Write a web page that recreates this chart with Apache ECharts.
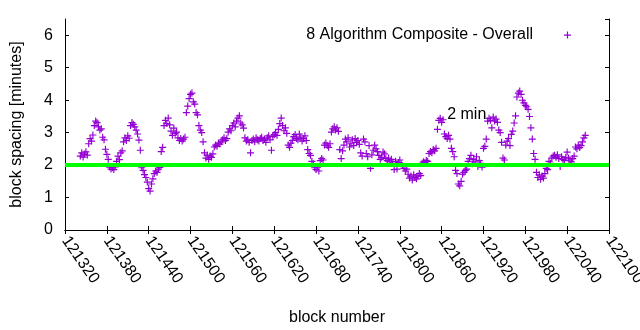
<!DOCTYPE html>
<html>
<head>
<meta charset="utf-8">
<script src="https://cdn.jsdelivr.net/npm/echarts@6/dist/echarts.min.js"></script>
<style>
  html, body { margin: 0; padding: 0; background: #fff; }
  #chart { width: 640px; height: 330px; }
</style>
</head>
<body>
<div id="chart"></div>
<script>
// Block spacing samples: one value every 2 blocks, starting at firstBlock
const firstBlock = 121342;
const blockStep = 2;
const spacing = [
  2.28, 2.38, 2.25, 2.34, 2.41, 2.31, 2.66, 2.82, 2.74, 2.93,
  3.22, 3.36, 3.31, 3.18, 3.08, 3.12, 2.86, 2.78, 2.49, 2.33,
  2.18, 1.94, 1.88, 1.92, 1.86, 1.95, 2.12, 2.28, 2.17, 2.38,
  2.44, 2.72, 2.84, 2.76, 2.90, 2.83, 3.22, 3.31, 3.26, 3.18,
  3.08, 2.96, 2.77, 2.46, 1.92, 1.84, 1.71, 1.62, 1.48, 1.28,
  1.20, 1.42, 1.58, 1.74, 1.82, 1.78, 1.88, 1.93, 2.42, 2.55,
  3.22, 3.38, 3.28, 3.45, 3.24, 3.05, 2.92, 3.14, 2.98, 3.02,
  2.84, 2.76, 2.82, 2.74, 2.80, 2.86, 3.62, 3.82, 4.05, 4.18,
  4.22, 3.95, 3.88, 3.62, 3.55, 3.22, 3.08, 3.00, 2.72, 2.38,
  2.22, 2.31, 2.18, 2.28, 2.24, 2.35, 2.56, 2.62, 2.58, 2.68,
  2.65, 2.72, 2.78, 2.84, 2.76, 2.82, 3.02, 3.12, 3.06, 3.22,
  3.30, 3.18, 3.36, 3.45, 3.52, 3.30, 3.24, 3.14, 2.84, 2.74,
  2.78, 2.70, 2.38, 2.76, 2.80, 2.72, 2.84, 2.78, 2.74, 2.82,
  2.86, 2.76, 2.80, 2.70, 2.84, 2.90, 2.78, 2.46, 2.88, 2.94,
  3.00, 2.92, 3.10, 3.28, 3.45, 3.22, 3.06, 3.15, 2.98, 2.62,
  2.55, 2.68, 2.76, 2.88, 2.94, 2.82, 2.78, 2.96, 2.86, 2.74,
  2.82, 2.90, 2.76, 2.48, 2.36, 2.30, 2.12, 2.04, 1.92, 1.86,
  1.94, 1.82, 2.14, 2.20, 2.16, 2.62, 2.68, 2.60, 2.55, 2.66,
  3.02, 3.12, 3.18, 3.08, 3.15, 3.04, 2.48, 2.20, 2.44, 2.62,
  2.80, 2.72, 2.84, 2.56, 2.66, 2.78, 2.60, 2.82, 2.70, 2.76,
  2.64, 2.38, 2.28, 2.80, 2.72, 2.36, 2.26, 2.60, 1.90, 2.32,
  2.46, 2.62, 2.50, 2.42, 2.30, 2.18, 2.24, 2.40, 2.35, 2.20,
  2.14, 2.22, 2.10, 2.18, 2.06, 1.86, 2.12, 1.88, 2.08, 2.16,
  2.04, 1.98, 1.90, 1.82, 1.88, 1.72, 1.60, 1.66, 1.54, 1.70,
  1.62, 1.58, 1.66, 1.74, 1.68, 2.06, 2.10, 2.08, 2.14, 2.12,
  2.36, 2.42, 2.38, 2.48, 2.44, 2.52, 3.10, 3.38, 3.44, 3.32,
  3.40, 2.96, 2.88, 2.82, 2.92, 2.80, 2.52, 2.42, 2.26, 1.84,
  1.74, 1.42, 1.36, 1.50, 1.72, 1.78, 1.84, 1.88, 2.12, 2.20,
  2.30, 2.04, 2.18, 2.10, 2.26, 1.96, 2.14, 2.06, 1.94, 2.52,
  2.58, 2.80, 3.36, 3.44, 3.38, 3.15, 3.48, 3.36, 3.42, 3.32,
  3.08, 3.00, 2.70, 2.22, 2.16, 2.62, 2.74, 2.82, 2.60, 2.95,
  3.05, 3.30, 3.52, 4.10, 4.22, 4.28, 4.18, 4.00, 3.92, 3.84,
  3.80, 3.72, 3.50, 3.15, 2.80, 2.36, 2.18, 1.78, 1.62, 1.70,
  1.56, 1.66, 1.60, 1.74, 1.90, 1.86, 2.12, 2.06, 2.22, 2.28,
  2.30, 2.24, 2.32, 2.20, 1.96, 2.26, 2.18, 2.14, 2.24, 2.40,
  2.22, 2.16, 2.10, 2.20, 2.28, 2.56, 2.50, 2.62, 2.54, 2.60,
  2.72, 2.84, 2.92
];

const seriesName = '8 Algorithm Composite - Overall';
const targetSpacing = 2;          // minutes, reference line
const targetLabel = '2 min';
const targetLabelAt = [121868, 3.54];

const xMin = 121320, xMax = 122100, xStep = 60;
const yMin = 0, yMax = 6.5, yStep = 1;

const points = spacing.map((v, i) => [firstBlock + blockStep * i, v]);

const FONT = "'Liberation Sans', Arial, sans-serif";
const PURPLE = '#9400d3';
const PLUS = 'path://M3,0h1.2v7h-1.2zM0,3h7.2v1.2h-7.2z';

const chart = echarts.init(document.getElementById('chart'), null, { renderer: 'canvas' });

const axisLine = { show: true, lineStyle: { color: '#000', width: 1 } };
const axisTick = { show: true, inside: true, length: 4, lineStyle: { color: '#000', width: 1 } };

chart.setOption({
  animation: false,
  backgroundColor: '#fff',
  textStyle: { fontFamily: FONT },
  grid: { left: 65, right: 31, top: 19, bottom: 100, containLabel: false, outerBoundsMode: 'none' },
  legend: {
    data: [{ name: seriesName, icon: PLUS }],
    align: 'right',
    right: 64,
    top: 22,
    itemWidth: 7,
    itemHeight: 7,
    selectedMode: false,
    textStyle: { fontFamily: FONT, fontSize: 16, color: '#000', padding: [0, 26, 0, 0] }
  },
  xAxis: [
    {
      type: 'value', min: xMin, max: xMax, interval: xStep,
      name: 'block number', nameLocation: 'middle', nameGap: 80,
      nameTextStyle: { fontFamily: FONT, fontSize: 16, color: '#000' },
      axisLine, axisTick, splitLine: { show: false },
      axisLabel: {
        show: true, rotate: -55, margin: 8, color: '#000',
        fontFamily: FONT, fontSize: 16,
        hideOverlap: false, showMinLabel: true, showMaxLabel: true,
        formatter: v => String(v)
      }
    },
    {
      type: 'value', position: 'top', min: xMin, max: xMax, interval: xStep,
      axisLine, axisTick, splitLine: { show: false }, axisLabel: { show: false }
    }
  ],
  yAxis: [
    {
      type: 'value', min: yMin, max: yMax, interval: yStep,
      name: 'block spacing [minutes]', nameLocation: 'middle', nameGap: 40,
      nameTextStyle: { fontFamily: FONT, fontSize: 16, color: '#000' },
      axisLine, axisTick, splitLine: { show: false },
      axisLabel: {
        margin: 12, color: '#000', fontFamily: FONT, fontSize: 16,
        showMaxLabel: false,
        formatter: v => (Number.isInteger(v) ? String(v) : '')
      }
    },
    {
      type: 'value', position: 'right', min: yMin, max: yMax, interval: yStep,
      axisLine, axisTick, splitLine: { show: false }, axisLabel: { show: false }
    }
  ],
  series: [
    {
      name: seriesName,
      type: 'scatter',
      xAxisIndex: 0, yAxisIndex: 0,
      symbol: PLUS,
      symbolSize: 7,
      itemStyle: { color: PURPLE, opacity: 1 },
      data: points,
      z: 2
    },
    {
      name: 'target',
      type: 'line',
      xAxisIndex: 0, yAxisIndex: 0,
      data: [],
      silent: true,
      z: 3,
      markLine: {
        silent: true,
        symbol: 'none',
        label: { show: false },
        lineStyle: { color: '#00ff00', width: 4, type: 'solid' },
        data: [{ yAxis: targetSpacing }]
      },
      markPoint: {
        silent: true,
        symbol: 'circle',
        symbolSize: 0,
        label: {
          show: true, position: 'right', distance: 0,
          formatter: targetLabel,
          color: '#000', fontFamily: FONT, fontSize: 16
        },
        data: [{ coord: targetLabelAt }]
      }
    }
  ]
});
</script>
</body>
</html>
